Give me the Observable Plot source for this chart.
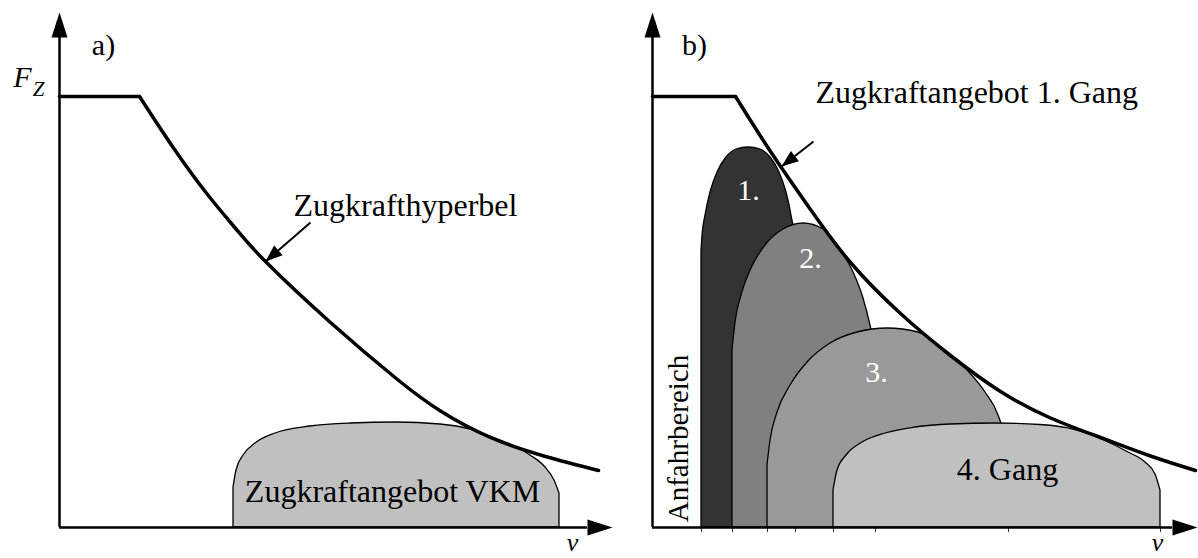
<!DOCTYPE html>
<html>
<head>
<meta charset="utf-8">
<script src="https://cdn.jsdelivr.net/npm/d3@7"></script>
<script src="https://cdn.jsdelivr.net/npm/@observablehq/plot@0.6"></script>
<style>
  html, body { margin: 0; padding: 0; background: #fff; }
  #wrap { display: flex; width: 1198px; height: 558px; }
  svg text { font-family: "Liberation Serif", "DejaVu Serif", serif !important; }
</style>
</head>
<body>
<div id="wrap"><div id="pa"></div><div id="pb"></div></div>
<script>
// ---------- data (v, F in arbitrary units) ----------
// Panel a
const flatA = [[0, 86.2], [16, 86.2]];
const hyperbolaA = [[16, 86.2], [22.8, 75.9], [29.6, 66.6], [35.4, 59.6], [41.2, 53.2], [54.2, 41.0], [67.6, 29.6], [76.2, 23.3], [86.2, 18], [97.2, 14.2], [107.8, 11.4]];
const domeVKM = [[34.8, 8], [35.4, 11.4], [36.8, 14.4], [39.2, 16.8], [43.2, 18.8], [50.2, 20.2], [58.2, 20.8], [67.4, 21], [76.2, 20.6], [82.2, 19.6], [86.2, 18.2], [90.2, 16.6], [94.2, 14.4], [97.2, 12], [99, 9.4], [100, 6.8]];

// Panel b
const flatB = [[0, 86.2], [16.6, 86.2]];
const hyperbolaB = [[16.6, 86.2], [23.6, 75.2], [31.6, 63.6], [39.6, 53], [49.6, 42.8], [59.6, 34.4], [69.6, 27.2], [79.6, 21.9], [89.6, 18], [99.6, 14.3], [108.6, 11.4]];
const gear1 = [[9.8, 55.4], [10, 58.4], [10.6, 62.4], [11.6, 67], [13, 71], [14.8, 74], [16.8, 75.6], [19.2, 76], [21.6, 75.6], [23.6, 74], [25.4, 71], [26.8, 67], [27.8, 62.4], [28.4, 58.4], [28.6, 55.4]];
const gear2 = [[16, 35.4], [16.6, 41], [17.8, 46.4], [19.8, 51.8], [22.6, 56.4], [26.2, 59.6], [30.2, 60.8], [34.2, 59.6], [37.6, 55.6], [40.2, 51], [42.2, 45.8], [43.6, 40.4], [44.6, 35.4]];
const gear3 = [[23, 12.4], [23.6, 17.4], [25, 23], [27.6, 28.4], [31, 33], [35.6, 36.8], [41, 39], [47, 39.8], [53.2, 39], [58.6, 35.2], [63.2, 31.2], [66.6, 27], [69.2, 22.4], [70.6, 17.4], [71.2, 12.4]];
const gear4 = [[36.2, 7.4], [37, 11.4], [38.8, 14.4], [42, 17], [46.6, 18.8], [52.6, 20], [59.6, 20.6], [68.8, 20.8], [77.6, 20.5], [84.6, 19.5], [90.6, 17.3], [95.2, 15], [98.6, 13], [100.6, 10.6], [101.6, 7.4]];
const gearTicks = [9.8, 16, 23, 28.6, 36.2, 44.6, 71.2, 101.6];

// Labels and annotation arrows (data units)
const panelLabels = {a: {text: "a)", v: 8.8, F: 96.4}, b: {text: "b)", v: 8.4, F: 96.4}};
const labelVKM = {text: "Zugkraftangebot VKM", v: 66.6, F: 7.2};
const labelHypA = {text: "Zugkrafthyperbel", v: 46.8, F: 64.4};
const arrowA = {v1: 50.2, F1: 61, v2: 41.2, F2: 53.2};
const labelHypB = {text: "Zugkraftangebot 1. Gang", v: 32.6, F: 87};
const arrowB = {v1: 32.2, F1: 77.2, v2: 25.8, F2: 72.2};
const gearLabels = [
  {text: "1.", v: 19.2, F: 67.4},
  {text: "2.", v: 31.6, F: 53.8},
  {text: "3.", v: 44.8, F: 31},
];
const gear4Label = {text: "4. Gang", v: 71, F: 11.6};
const startLabel = {text: "Anfahrbereich", v: 5.2, F: 17.8};

// ---------- helpers ----------
const X = d => d[0], Y = d => d[1];
const tri = (L, W) => ({draw(ctx) { ctx.moveTo(0, 0); ctx.lineTo(W, L); ctx.lineTo(-W, L); ctx.closePath(); }});
const bigHead = tri(25, 8);
const smallHead = tri(17, 6.5);
const angle = a => Math.atan2(a.v2 - a.v1, a.F2 - a.F1) * 180 / Math.PI;
const FONT = "Liberation Serif";

function axesMarks(xMax, yMax) {
  const xBase = xMax - 5, yBase = yMax - 5;
  return [
    Plot.ruleY([0], {x1: 0, x2: xBase, strokeWidth: 2.5}),
    Plot.ruleX([0], {y1: 0, y2: yBase, strokeWidth: 2.5}),
    Plot.dot([[0, yMax]], {x: X, y: Y, symbol: bigHead, fill: "black", stroke: "none", r: 3}),
    Plot.dot([[xMax, 0]], {x: X, y: Y, symbol: bigHead, fill: "black", stroke: "none", r: 3, rotate: 90}),
  ];
}
function annotArrow(a) {
  return [
    Plot.link([a], {x1: "v1", y1: "F1", x2: "v2", y2: "F2", strokeWidth: 2}),
    Plot.dot([a], {x: "v2", y: "F2", symbol: smallHead, fill: "black", stroke: "none", r: 3, rotate: angle(a)}),
  ];
}
function dome(data, fill) {
  return Plot.areaY(data, {x: X, y1: 0, y2: Y, fill, stroke: "black", strokeWidth: 1.3, curve: "monotone-x"});
}
function label(data, opts = {}) {
  return Plot.text(data, {x: "v", y: "F", text: "text", fontSize: 32, fill: "black", fontFamily: FONT, ...opts});
}

// ---------- panel a ----------
const xMaxA = 110.6, xMaxB = 109, yMax = 103;
const plotA = Plot.plot({
  width: 620, height: 558,
  marginTop: 12, marginBottom: 31, marginLeft: 59, marginRight: 8,
  x: {domain: [0, xMaxA], axis: null},
  y: {domain: [0, yMax], axis: null},
  style: {fontFamily: FONT, background: "transparent", overflow: "visible"},
  marks: [
    dome(domeVKM, "#c0c0c0"),
    ...axesMarks(xMaxA, yMax),
    Plot.line(flatA, {x: X, y: Y, strokeWidth: 3.5}),
    Plot.line(hyperbolaA, {x: X, y: Y, strokeWidth: 3.5, curve: "natural"}),
    ...annotArrow(arrowA),
    label([panelLabels.a], {fontSize: 30}),
    label([labelVKM]),
    label([labelHypA], {textAnchor: "start"}),
    label([{text: "F", v: -7.4, F: 90}], {fontSize: 30, fontStyle: "italic"}),
    label([{text: "Z", v: -4.2, F: 87.6}], {fontSize: 21, fontStyle: "italic"}),
    label([{text: "v", v: 102.6, F: -3}], {fontSize: 26, fontStyle: "italic"}),
  ]
});
document.getElementById("pa").append(plotA);

// ---------- panel b ----------
const plotB = Plot.plot({
  width: 578, height: 558,
  marginTop: 12, marginBottom: 31, marginLeft: 32, marginRight: 1,
  x: {domain: [0, xMaxB]},
  y: {domain: [0, yMax], axis: null},
  style: {fontFamily: FONT, background: "transparent", overflow: "visible"},
  marks: [
    dome(gear1, "#333333"),
    dome(gear2, "#808080"),
    dome(gear3, "#999999"),
    dome(gear4, "#c0c0c0"),
    Plot.axisX(gearTicks, {tickSize: 5, tickFormat: () => "", label: null, stroke: "#333", strokeWidth: 1}),
    ...axesMarks(xMaxB, yMax),
    Plot.line(flatB, {x: X, y: Y, strokeWidth: 3.5}),
    Plot.line(hyperbolaB, {x: X, y: Y, strokeWidth: 3.5, curve: "natural"}),
    ...annotArrow(arrowB),
    label([panelLabels.b], {fontSize: 30}),
    label([labelHypB], {textAnchor: "start"}),
    label(gearLabels, {fill: "white", fontSize: 30}),
    label([gear4Label]),
    label([startLabel], {rotate: -90, fontSize: 29}),
    label([{text: "v", v: 101, F: -3}], {fontSize: 26, fontStyle: "italic"}),
  ]
});
document.getElementById("pb").append(plotB);
</script>
</body>
</html>
